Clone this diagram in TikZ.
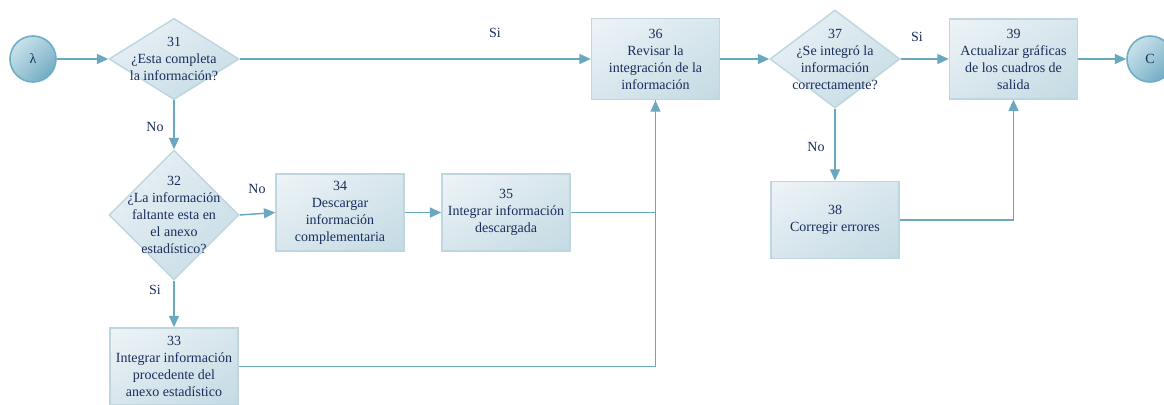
\documentclass[tikz,border=0pt]{standalone}
\usepackage{fontspec}
\setmainfont{Liberation Serif}
\usetikzlibrary{shapes.geometric,arrows.meta,shadings}
\definecolor{flowline}{HTML}{6AA8BF}
\definecolor{boxedge}{HTML}{BDD6E0}
\definecolor{boxlight}{HTML}{EEF4F8}
\definecolor{boxmid}{HTML}{D8E6ED}
\definecolor{boxdark}{HTML}{C3DAE3}
\definecolor{textblue}{HTML}{1A2D5C}
\definecolor{balllight}{HTML}{D8EAF1}
\definecolor{ballmid}{HTML}{A3CBDA}
\definecolor{balldark}{HTML}{5E9FBA}
\definecolor{balledge}{HTML}{6EAEC5}
\tikzset{
  stepbox/.style={draw=boxedge, line width=1.1pt, upper left=boxlight, upper right=boxmid,
    lower left=boxmid, lower right=boxdark, minimum width=96pt, minimum height=58pt,
    inner sep=2pt, align=center, text=textblue},
  flowcheck/.style={diamond, draw=boxedge, line width=1.1pt, upper left=boxlight, upper right=boxmid,
    lower left=boxmid, lower right=boxdark, minimum width=97.5pt, inner sep=0pt},
  checktext/.style={align=center, text=textblue},
  ballnode/.style={circle, draw=balledge, line width=1.2pt, minimum size=34.5pt, upper left=balllight,
    upper right=ballmid, lower left=ballmid, lower right=balldark, text=textblue},
  answer/.style={text=textblue},
  flow/.style={draw=flowline, line width=1.1pt}
}
\begin{document}
\begin{tikzpicture}[x=0.75pt, y=-0.75pt, font=\fontsize{10.5}{12.75}\selectfont,
    >={Triangle[length=8.5pt,width=7.5pt]}]
    \useasboundingbox (0,0) rectangle (1164,404);
    % connectors at both ends
    \node[ballnode] (lambda) at (33,59) {λ};
    \node[ballnode] (endC) at (1150,59) {C};
    % decisions
    \node[flowcheck, minimum height=61pt,
        label={[checktext]center:31\\¿Esta completa\\la información?}] (d31) at (174,59) {};
    \node[flowcheck, minimum height=97.5pt,
        label={[checktext]center:32\\¿La información\\faltante esta en\\el anexo\\estadístico?}] (d32) at (174,215) {};
    \node[flowcheck, minimum height=73.5pt,
        label={[checktext]center:37\\¿Se integró la\\información\\correctamente?}] (d37) at (835,59) {};
    % process steps
    \node[stepbox] (b33) at (174,366.5) {33\\Integrar información\\procedente del\\anexo estadístico};
    \node[stepbox] (b34) at (340,212.5) {34\\Descargar\\información\\complementaria};
    \node[stepbox] (b35) at (506,212.5) {35\\Integrar información\\descargada};
    \node[stepbox, minimum height=61pt] (b36) at (655.5,59) {36\\Revisar la\\integración de la\\información};
    \node[stepbox] (b38) at (835,220) {38\\Corregir errores};
    \node[stepbox, minimum height=60pt] (b39) at (1013.5,59) {39\\Actualizar gráficas\\de los cuadros de\\salida};
    % answers
    \node[answer] (si31) at (495,33) {Si};
    \node[answer] (no31) at (155,127) {No};
    \node[answer] (no32) at (257,189) {No};
    \node[answer] (si32) at (155,290) {Si};
    \node[answer] (si37) at (917,37) {Si};
    \node[answer] (no37) at (816,147) {No};
    \foreach \from/\to in {lambda.east/d31.west, d31.east/b36.west, d31.south/d32.north,
        d32.east/b34.west, d32.south/b33.north, b34.east/b35.west, b36.east/d37.west,
        d37.east/b39.west, d37.south/b38.north, b39.east/endC.west} {
        \draw[flow, ->] (\from) -- (\to);
    }
    \draw[flow, ->] (b35.east) -| (b36.south);
    \draw[flow] (b33.east) -| (b36.south);
    \draw[flow, ->] (b38.east) -| (b39.south);
\end{tikzpicture}
\end{document}
